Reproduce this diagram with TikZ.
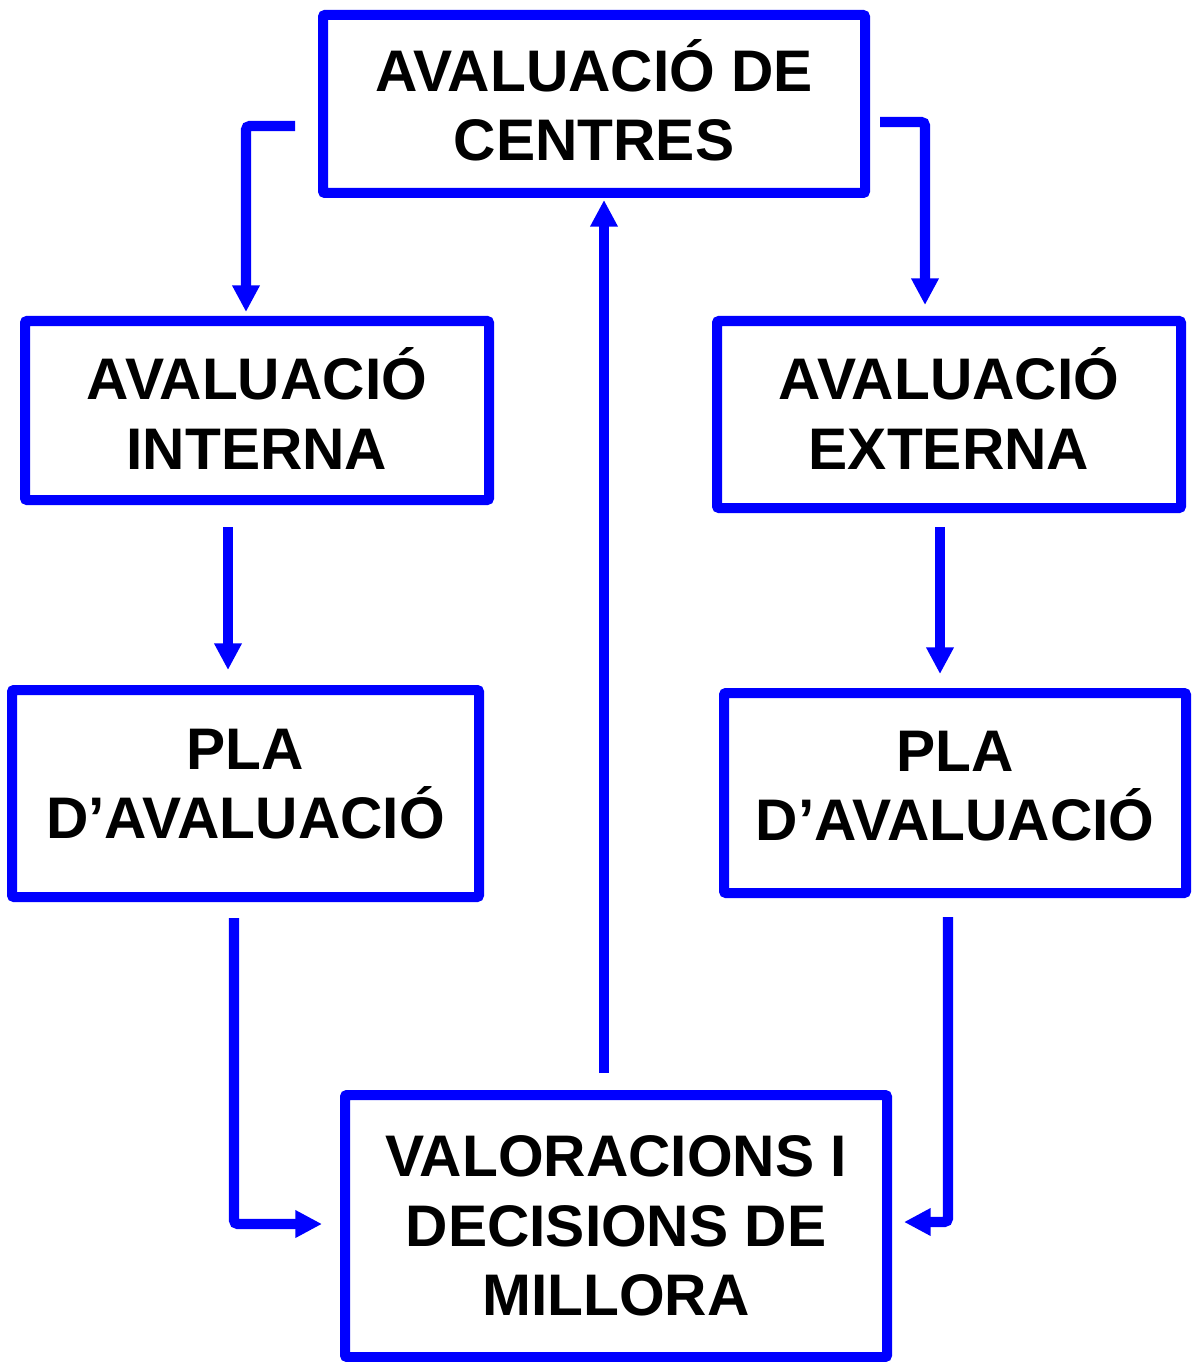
\documentclass[tikz,border=0pt]{standalone}
\usepackage{fontspec}
\setmainfont{Liberation Sans}
\usetikzlibrary{arrows.meta,calc}
\begin{document}
\begin{tikzpicture}[x=0.75pt,y=-0.75pt,
  box/.style={draw=blue,line width=7.5pt,rounded corners=1.5pt,rectangle,align=center,
    font=\fontsize{44}{52}\selectfont\bfseries,text=black,inner sep=0pt},
  arr/.style={draw=blue,line width=7.8pt,rounded corners=3pt,
    -{Triangle[width=19.5pt,length=20pt]}}]
\useasboundingbox (0,0) rectangle (1191,1362);
\node[box,minimum width=542*0.75pt,minimum height=178*0.75pt,text depth=8*0.75pt] (top) at (594,104) {AVALUACIÓ DE\\CENTRES};
\node[box,minimum width=464*0.75pt,minimum height=179*0.75pt,text depth=4*0.75pt] (l1) at (257,410.5) {AVALUACIÓ\\INTERNA};
\node[box,minimum width=464*0.75pt,minimum height=187*0.75pt,text depth=12*0.75pt] (r1) at (949,414.5) {AVALUACIÓ\\EXTERNA};
\node[box,minimum width=467*0.75pt,minimum height=207*0.75pt,text depth=20*0.75pt] (l2) at (245.5,793.5) {PLA\\D’AVALUACIÓ};
\node[box,minimum width=462*0.75pt,minimum height=200*0.75pt,text depth=14*0.75pt] (r2) at (955,793) {PLA\\D’AVALUACIÓ};
\node[box,minimum width=542*0.75pt,minimum height=262*0.75pt] (bot) at (616,1226) {VALORACIONS I\\DECISIONS DE\\MILLORA};
\draw[arr] ($(top.west)+(-23,22)$) -| ($(l1.north)+(-11,-4)$);
\draw[arr] ($(top.east)+(10,18)$) -| ($(r1.north)+(-24,-11)$);
\draw[arr] ($(l1.south)+(-29,22)$) -- ($(l2.north)+(-17.5,-15)$);
\draw[arr] ($(r1.south)+(-9,14)$) -- ($(r2.north)+(-15,-14)$);
\draw[arr] ($(l2.south)+(-11.5,16)$) |- ($(bot.west)+(-18,-2)$);
\draw[arr] ($(r2.south)+(-7,19)$) |- ($(bot.east)+(12,-4)$);
\draw[arr] ($(bot.north)+(-12,-17)$) -- ($(top.south)+(10,2)$);
\end{tikzpicture}
\end{document}
